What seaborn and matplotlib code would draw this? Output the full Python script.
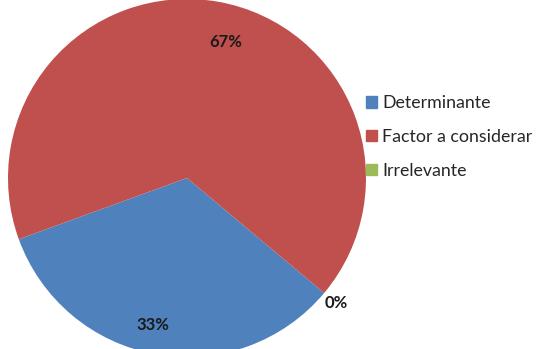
import matplotlib
matplotlib.use("Agg")
import matplotlib.pyplot as plt
import seaborn as sns
import numpy as np

sns.set_theme(style="white")
plt.rcParams['font.family'] = ['Lato', 'DejaVu Sans']

categories = ["Determinante", "Factor a considerar", "Irrelevante"]
values = [1, 2, 0]
pct_labels = ["33%", "67%", "0%"]
colors = ["#4F81BD", "#C0504D", "#9BBB59"]

fig = plt.figure(figsize=(5.39, 3.49), dpi=100)
ax = fig.add_axes([8/539, -8/349, 358/539, 358/349])

wedges, _ = ax.pie(values, colors=colors, startangle=-40, counterclock=False,
                   wedgeprops=dict(linewidth=0))
ax.set_xlim(-1, 1)
ax.set_ylim(-1, 1)
ax.set_aspect('equal')

label_dist = [0.84, 0.79, 1.09]
label_shift = [-3, -6, 0]
for w, lab, d, s in zip(wedges, pct_labels, label_dist, label_shift):
    ang = np.deg2rad((w.theta1 + w.theta2) / 2 + s)
    ax.text(d * np.cos(ang), d * np.sin(ang), lab, ha='center', va='center',
            fontsize=12, fontweight='bold', color='#1a1a1a', clip_on=False)

handles = [plt.Rectangle((0, 0), 1, 1, color=c) for c in colors]
fig.legend(handles, categories, loc='center left', bbox_to_anchor=(366/539, 1 - 137/349),
           frameon=False, fontsize=12.8, handlelength=0.6, handleheight=0.6,
           handletextpad=0.3, labelspacing=1.0, borderaxespad=0, borderpad=0)

fig.savefig("out.png", dpi=100)
